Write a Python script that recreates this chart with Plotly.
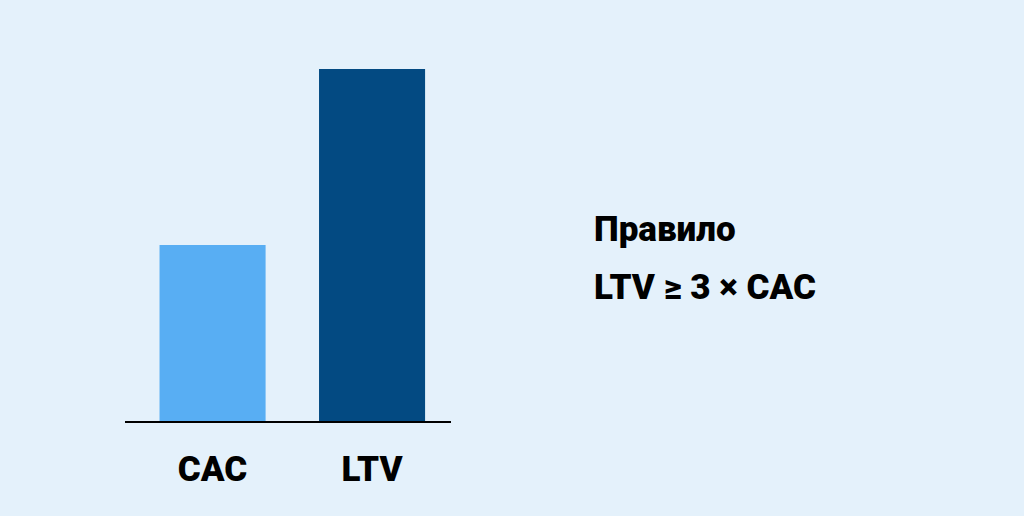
import plotly.graph_objects as go

categories = ["CAC", "LTV"]
values = [100, 200]
bar_colors = ["#58AEF3", "#034A82"]
rule_title = "Правило"
rule_text = "LTV ≥ 3 × CAC"

BG = "#E4F1FB"
FONT = "Roboto"

fig = go.Figure()
fig.add_trace(go.Bar(
    x=categories, y=values,
    marker=dict(color=bar_colors, line=dict(width=0)),
    width=0.665,
    hoverinfo="skip",
))

fig.update_layout(
    width=1024, height=516,
    paper_bgcolor=BG, plot_bgcolor=BG,
    margin=dict(l=125, r=573, t=69, b=95),
    showlegend=False,
    font=dict(family=FONT, color="#000000"),
    xaxis=dict(
        range=[-0.549, 1.495],
        showline=True, linecolor="#000000", linewidth=2,
        showgrid=False, zeroline=False, ticks="",
        tickfont=dict(family=FONT, size=35, color="#000000", weight=900),
        ticklabelstandoff=16,
    ),
    yaxis=dict(
        range=[0, max(values)],
        visible=False, showgrid=False, zeroline=False,
    ),
)

px0 = (595 - 125) / (1024 - 125 - 573)
fig.add_annotation(
    text=rule_title, xref="paper", yref="paper",
    x=px0, y=(516 - 95 - 229) / (516 - 69 - 95),
    xanchor="left", yanchor="middle", showarrow=False, xshift=-3,
    font=dict(family=FONT, size=35, color="#000000", weight=900),
)
fig.add_annotation(
    text=rule_text, xref="paper", yref="paper",
    x=px0, y=(516 - 95 - 287) / (516 - 69 - 95),
    xanchor="left", yanchor="middle", showarrow=False, xshift=-3,
    font=dict(family=FONT, size=35, color="#000000", weight=900),
)

fig.write_html(
    "out.html",
    config={"displayModeBar": False},
    post_script="document.body.style.margin='0';document.body.style.overflow='hidden';",
)
